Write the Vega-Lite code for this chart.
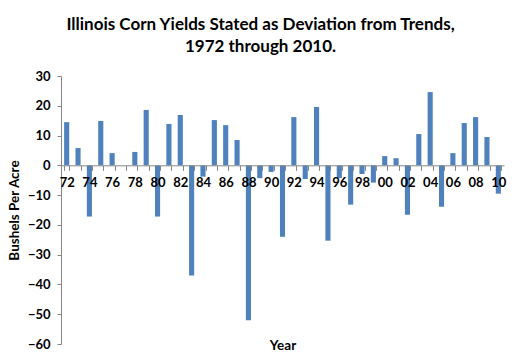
{
  "$schema": "https://vega.github.io/schema/vega-lite/v6.json",
  "width": 443,
  "height": 268,
  "autosize": "none",
  "padding": {"left": 61, "top": 76, "right": 15, "bottom": 12},
  "background": "white",
  "config": {"view": {"stroke": null}, "font": "Lato"},
  "title": {
    "text": ["Illinois Corn Yields Stated as Deviation from Trends,", "1972 through 2010."],
    "font": "Lato",
    "fontSize": 17,
    "fontWeight": "bold",
    "color": "black",
    "lineHeight": 22,
    "dx": -22,
    "offset": 14
  },
  "data": {
    "values": [
      {"year": 1972, "dev": 14.5},
      {"year": 1973, "dev": 5.8},
      {"year": 1974, "dev": -17.2},
      {"year": 1975, "dev": 14.9},
      {"year": 1976, "dev": 4.1},
      {"year": 1977, "dev": 0},
      {"year": 1978, "dev": 4.5},
      {"year": 1979, "dev": 18.6},
      {"year": 1980, "dev": -17.2},
      {"year": 1981, "dev": 13.9},
      {"year": 1982, "dev": 16.9},
      {"year": 1983, "dev": -37.0},
      {"year": 1984, "dev": -3.8},
      {"year": 1985, "dev": 15.2},
      {"year": 1986, "dev": 13.5},
      {"year": 1987, "dev": 8.5},
      {"year": 1988, "dev": -52.0},
      {"year": 1989, "dev": -4.3},
      {"year": 1990, "dev": -2.2},
      {"year": 1991, "dev": -24.0},
      {"year": 1992, "dev": 16.2},
      {"year": 1993, "dev": -4.6},
      {"year": 1994, "dev": 19.6},
      {"year": 1995, "dev": -25.3},
      {"year": 1996, "dev": -4.3},
      {"year": 1997, "dev": -13.2},
      {"year": 1998, "dev": -2.9},
      {"year": 1999, "dev": -5.8},
      {"year": 2000, "dev": 3.1},
      {"year": 2001, "dev": 2.4},
      {"year": 2002, "dev": -16.6},
      {"year": 2003, "dev": 10.5},
      {"year": 2004, "dev": 24.6},
      {"year": 2005, "dev": -13.9},
      {"year": 2006, "dev": 4.1},
      {"year": 2007, "dev": 14.2},
      {"year": 2008, "dev": 16.2},
      {"year": 2009, "dev": 9.5},
      {"year": 2010, "dev": -9.5}
    ]
  },
  "mark": {"type": "bar", "color": "#4F81BD"},
  "encoding": {
    "x": {
      "field": "year",
      "type": "ordinal",
      "scale": {"paddingInner": 0.55, "paddingOuter": 0.275},
      "axis": {
        "title": "Year",
        "titleFont": "Lato",
        "titleFontSize": 13.5,
        "titleFontWeight": "bold",
        "titleColor": "black",
        "titleBaseline": "top",
        "titleY": 173,
        "offset": -178.7,
        "zindex": 1,
        "domainColor": "#868686",
        "tickColor": "#868686",
        "tickSize": 5,
        "tickBand": "extent",
        "labelAngle": 0,
        "labelOverlap": false,
        "labelFont": "Lato",
        "labelFontSize": 13,
        "labelFontWeight": "bold",
        "labelColor": "black",
        "labelPadding": 6,
        "labelExpr": "datum.value % 2 == 0 ? substring(toString(datum.value), 2) : ''"
      }
    },
    "y": {
      "field": "dev",
      "type": "quantitative",
      "scale": {"domain": [-60, 30], "nice": false, "zero": false},
      "axis": {
        "title": "Bushels Per Acre",
        "titleFont": "Lato",
        "titleFontSize": 13.5,
        "titleFontWeight": "bold",
        "titleColor": "black",
        "titlePadding": 6,
        "values": [-60, -50, -40, -30, -20, -10, 0, 10, 20, 30],
        "grid": false,
        "domainColor": "#868686",
        "tickColor": "#868686",
        "tickSize": 4,
        "labelFont": "Lato",
        "labelFontSize": 13,
        "labelFontWeight": "bold",
        "labelColor": "black",
        "labelPadding": 7
      }
    }
  }
}
